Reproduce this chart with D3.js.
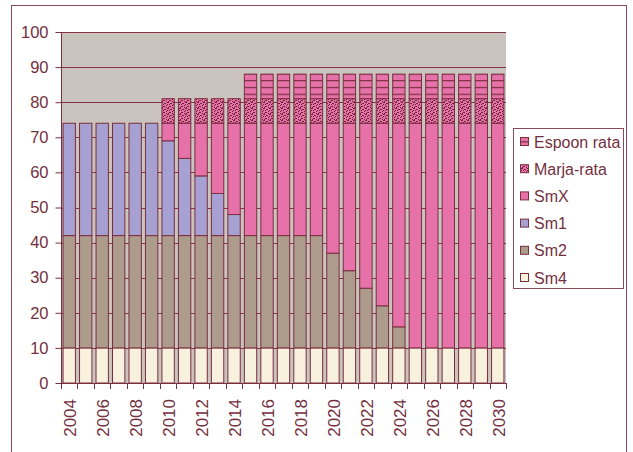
<!DOCTYPE html>
<html><head><meta charset="utf-8">
<script src="https://cdn.jsdelivr.net/npm/d3@7"></script>
<style>body{margin:0;background:#fff}svg{display:block}text{font-family:"Liberation Sans",Arial,sans-serif;fill:#74303e}</style>
</head><body><svg id="c" width="633" height="452"></svg>
<script>
const years = d3.range(2004, 2031).map(String);
const sm4   = [10,10,10,10,10,10,10,10,10,10,10,10,10,10,10,10,10,10,10,10,10,10,10,10,10,10,10];
const sm2   = [32,32,32,32,32,32,32,32,32,32,32,32,32,32,32,32,27,22,17,12,6,0,0,0,0,0,0];
const sm1   = [32,32,32,32,32,32,27,22,17,12,6,0,0,0,0,0,0,0,0,0,0,0,0,0,0,0,0];
const smx   = [0,0,0,0,0,0,5,10,15,20,26,32,32,32,32,32,37,42,47,52,58,64,64,64,64,64,64];
const marja = [0,0,0,0,0,0,7,7,7,7,7,7,7,7,7,7,7,7,7,7,7,7,7,7,7,7,7];
const espoo = [0,0,0,0,0,0,0,0,0,0,0,7,7,7,7,7,7,7,7,7,7,7,7,7,7,7,7];
const seriesNames = ["Sm4","Sm2","Sm1","SmX","Marja-rata","Espoon rata"];
const seriesVals = [sm4, sm2, sm1, smx, marja, espoo];
const yTicks = d3.range(0, 101, 10);
const xLabels = years.filter((y,i)=>i%2===0);

const fills = {"Sm4":"#f8f1dd","Sm2":"#ad9c8b","Sm1":"#a7a1d3","SmX":"#e772aa","Marja-rata":"url(#marja)","Espoon rata":"url(#espoo)"};
const dark = "#7a2f3f";

const svg = d3.select("#c");
const defs = svg.append("defs");
const pm = defs.append("pattern").attr("id","marja").attr("patternUnits","userSpaceOnUse").attr("width",6).attr("height",6);
pm.append("rect").attr("width",6).attr("height",6).attr("fill","#e772aa");
[[0,0],[3,1],[1,2],[5,2],[2,4],[4,3],[0,5],[4,5],[2,1],[5,0],[1,4]].forEach(([a,b])=>pm.append("rect").attr("x",a).attr("y",b).attr("width",1).attr("height",1).attr("fill","#6e2536"));
const pe = defs.append("pattern").attr("id","espoo").attr("patternUnits","userSpaceOnUse").attr("width",8).attr("height",6.8).attr("y",73.3);
pe.append("rect").attr("width",8).attr("height",6.8).attr("fill","#e772aa");
pe.append("rect").attr("y",0).attr("width",8).attr("height",1.2).attr("fill","#7a2f3f");

svg.append("rect").attr("x",11.5).attr("y",5.5).attr("width",615).attr("height",470).attr("fill","#fff").attr("stroke","#8a4a56").attr("stroke-width",1);

const L=61, R=506, T=32, B=383;
const x = d3.scaleBand().domain(years).range([L,R]).paddingInner(0.25).paddingOuter(0.125);
const y = d3.scaleLinear().domain([0,100]).range([B,T]);

svg.append("rect").attr("x",L).attr("y",T).attr("width",R-L).attr("height",B-T).attr("fill","#cbc3be");
svg.append("g").selectAll("line").data(yTicks.slice(1)).join("line")
  .attr("x1",L).attr("x2",R).attr("y1",d=>Math.round(y(d))+0.5).attr("y2",d=>Math.round(y(d))+0.5)
  .attr("stroke","#853444").attr("stroke-width",1);

const table = years.map((yr,i)=>{const o={year:yr}; seriesNames.forEach((s,k)=>o[s]=seriesVals[k][i]); return o;});
const stack = d3.stack().keys(seriesNames)(table);
svg.append("g").selectAll("g").data(stack).join("g").attr("fill",d=>fills[d.key])
  .selectAll("rect").data(d=>d.filter(p=>p[1]-p[0]>0)).join("rect")
  .attr("x",d=>x(d.data.year)).attr("width",x.bandwidth())
  .attr("y",d=>y(d[1])).attr("height",d=>y(d[0])-y(d[1]))
  .attr("stroke",dark).attr("stroke-width",1);

// y axis
const ya = svg.append("g").attr("transform",`translate(${L+0.5},0)`)
  .call(d3.axisLeft(y).tickValues(yTicks).tickSize(6).tickSizeOuter(0).tickPadding(7));
ya.select(".domain").attr("stroke",dark).attr("d",`M0,${T}V${B}`);
ya.selectAll(".tick line").attr("stroke",dark);
ya.selectAll("text").attr("font-size","16.5px").attr("fill","#74303e").attr("font-family","Liberation Sans, Arial, sans-serif");

// x axis line and ticks at category boundaries
svg.append("line").attr("x1",L).attr("x2",R).attr("y1",B+0.5).attr("y2",B+0.5).attr("stroke",dark);
const step = x.step();
svg.append("g").selectAll("line").data(d3.range(years.length+1)).join("line")
  .attr("x1",i=>Math.round(L+i*step)+0.5).attr("x2",i=>Math.round(L+i*step)+0.5)
  .attr("y1",B).attr("y2",B+6).attr("stroke",dark);
svg.append("g").selectAll("text").data(xLabels).join("text")
  .attr("transform",d=>`translate(${x(d)+x.bandwidth()/2+1},${B+16}) rotate(-90)`)
  .attr("text-anchor","end").attr("dy","0.35em").attr("font-size","17px").text(d=>d);

// legend
const lg = svg.append("g");
lg.append("rect").attr("x",513.5).attr("y",128.5).attr("width",110).attr("height",160).attr("fill","#fff").attr("stroke","#8a4a56");
const legendOrder = seriesNames.slice().reverse();
legendOrder.forEach((s,i)=>{
  const cy = 142 + i*27.2;
  lg.append("rect").attr("x",520.5).attr("y",cy-4.5).attr("width",8).attr("height",8).attr("fill",fills[s]).attr("stroke",dark);
  lg.append("text").attr("x",534).attr("y",cy).attr("dy","0.35em").attr("font-size","16px").text(s);
});
</script></body></html>
